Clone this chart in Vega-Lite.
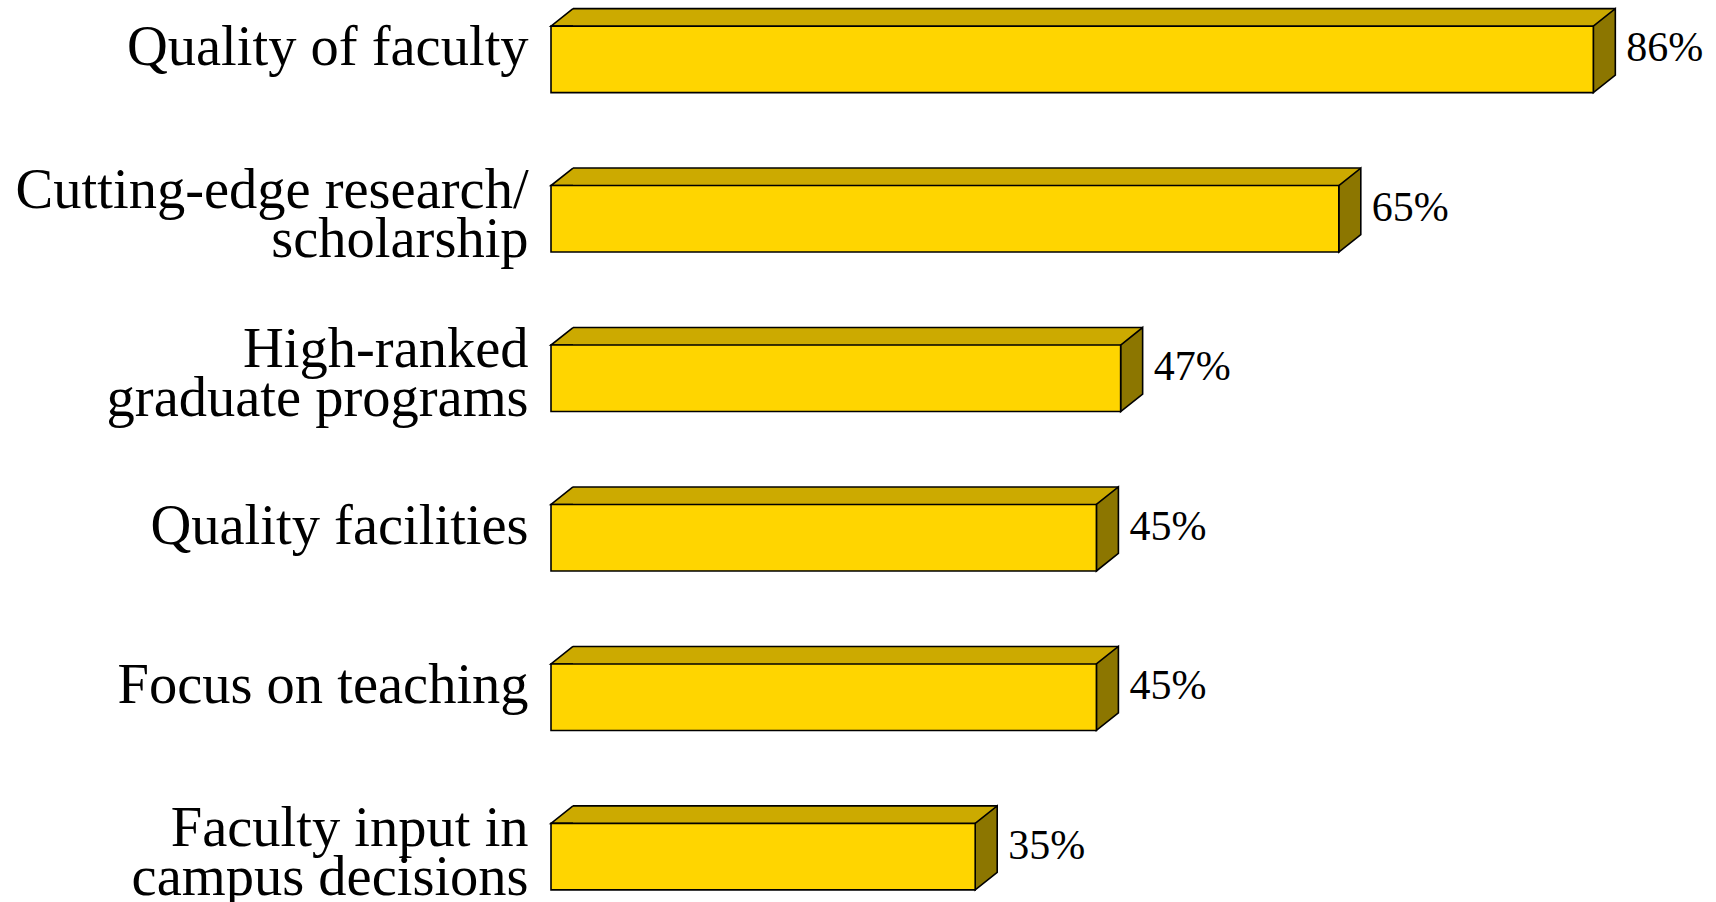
{
  "$schema": "https://vega.github.io/schema/vega-lite/v6.json",
  "width": 1090.8,
  "height": 887.3,
  "autosize": {"type": "none"},
  "padding": {"left": 551, "top": 14.35, "right": 74.2, "bottom": 0.35},
  "background": "white",
  "config": {"view": {"stroke": null}},
  "data": {
    "values": [
      {"item": "Quality of faculty", "lines": ["Quality of faculty"], "share": 0.86},
      {"item": "Cutting-edge research/ scholarship", "lines": ["Cutting-edge research/", "scholarship"], "share": 0.65},
      {"item": "High-ranked graduate programs", "lines": ["High-ranked", "graduate programs"], "share": 0.47},
      {"item": "Quality facilities", "lines": ["Quality facilities"], "share": 0.45},
      {"item": "Focus on teaching", "lines": ["Focus on teaching"], "share": 0.45},
      {"item": "Faculty input in campus decisions", "lines": ["Faculty input in", "campus decisions"], "share": 0.35}
    ]
  },
  "encoding": {
    "y": {
      "field": "item",
      "type": "nominal",
      "axis": null,
      "scale": {
        "domain": ["Quality of faculty", "Cutting-edge research/ scholarship", "High-ranked graduate programs", "Quality facilities", "Focus on teaching", "Faculty input in campus decisions"],
        "paddingInner": 0.4356,
        "paddingOuter": 0
      }
    },
    "x": {"field": "share", "type": "quantitative", "axis": null, "scale": {"domain": [0, 0.9], "nice": false, "zero": true}}
  },
  "layer": [
    {"mark": {"type": "bar", "fill": "#CCAA00", "height": 17.5, "yOffset": -42, "xOffset": 22, "x2Offset": 22}},
    {"mark": {"type": "bar", "fill": "black", "height": 1.6, "yOffset": -50.75, "xOffset": 22, "x2Offset": 22}},
    {
      "mark": {"type": "point", "shape": "M22,0 L0,0 L22,-17.5", "size": 4, "filled": true, "fill": "#CCAA00", "stroke": "black", "strokeWidth": 1.6, "opacity": 1, "yOffset": -33.25},
      "encoding": {"x": {"datum": 0, "type": "quantitative"}}
    },
    {"mark": {"type": "point", "shape": "M0,-33.25 L22,-50.75 L22,15.75 L0,33.25 Z", "size": 4, "filled": true, "fill": "#8C7600", "stroke": "black", "strokeWidth": 1.6, "opacity": 1}},
    {"mark": {"type": "bar", "fill": "#FFD500", "stroke": "black", "strokeWidth": 1.6, "height": 66.5}},
    {
      "mark": {"type": "text", "align": "left", "baseline": "alphabetic", "xOffset": 33, "yOffset": 2, "font": "Liberation Serif", "fontSize": 42, "fill": "black"},
      "encoding": {"text": {"field": "share", "type": "quantitative", "format": ".0%"}}
    },
    {
      "transform": [{"filter": "datum.lines.length == 1"}],
      "mark": {"type": "text", "align": "right", "baseline": "alphabetic", "xOffset": -22.4, "yOffset": 6, "font": "Liberation Serif", "fontSize": 56.5, "fill": "black"},
      "encoding": {"x": {"datum": 0, "type": "quantitative"}, "text": {"field": "lines", "type": "nominal"}}
    },
    {
      "transform": [{"filter": "datum.lines.length == 2"}],
      "mark": {"type": "text", "align": "right", "baseline": "alphabetic", "xOffset": -22.4, "yOffset": -11, "lineHeight": 49, "font": "Liberation Serif", "fontSize": 56.5, "fill": "black"},
      "encoding": {"x": {"datum": 0, "type": "quantitative"}, "text": {"field": "lines", "type": "nominal"}}
    }
  ]
}
